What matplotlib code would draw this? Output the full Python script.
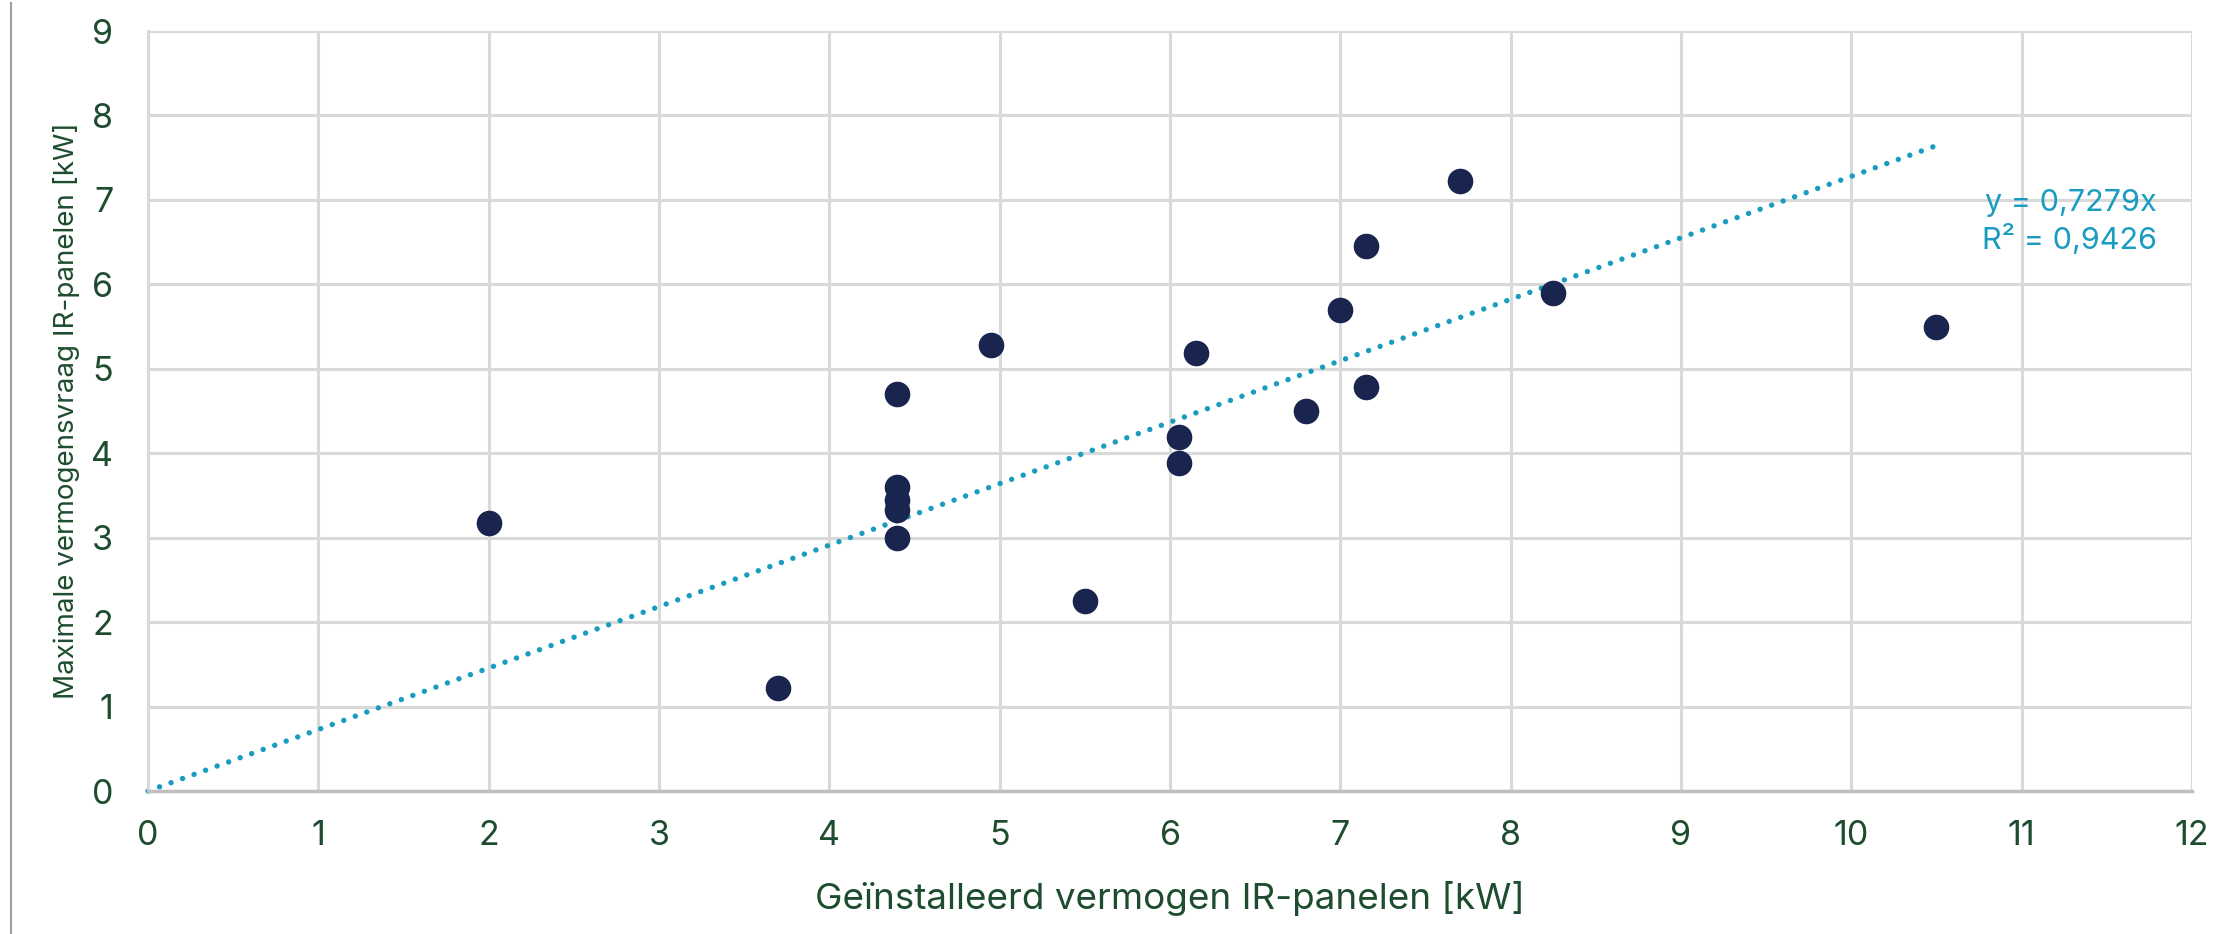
import matplotlib
matplotlib.use("Agg")
import matplotlib.pyplot as plt
from matplotlib.lines import Line2D
import numpy as np

# Data
x_installed = [2.0, 3.7, 4.4, 4.4, 4.4, 4.4, 4.4, 4.95, 5.5, 6.05, 6.05, 6.15,
               6.8, 7.0, 7.15, 7.15, 7.7, 8.25, 10.5]
y_demand = [3.17, 1.22, 4.70, 3.60, 3.45, 3.33, 3.00, 5.28, 2.25, 4.19, 3.88, 5.19,
            4.50, 5.70, 6.45, 4.79, 7.22, 5.90, 5.50]
slope = 0.7279
r2 = 0.9426
trend_x = [0.0, 10.5]
x_ticks = list(range(0, 13))
y_ticks = list(range(0, 10))
x_label = "Geïnstalleerd vermogen IR-panelen [kW]"
y_label = "Maximale vermogensvraag IR-panelen [kW]"

plt.rcParams['font.family'] = ['Inter', 'DejaVu Sans']

W, H, DPI = 2231, 934, 100
fig = plt.figure(figsize=(W / DPI, H / DPI), dpi=DPI)
ax = fig.add_axes([148 / W, 1 - 791 / H, (2192 - 148) / W, (791 - 31) / H])

green = '#1d4d2e'
navy = '#19244f'
teal = '#1a9cc0'

ax.set_xlim(0, 12)
ax.set_ylim(0, 9)
ax.set_xticks(x_ticks)
ax.set_yticks(y_ticks)
ax.grid(True, color='#d9d9d9', linewidth=2.2)
ax.set_axisbelow(True)
for s in ['top', 'right']:
    ax.spines[s].set_visible(False)
ax.spines['left'].set_color('#d9d9d9')
ax.spines['left'].set_linewidth(2.2)
ax.spines['bottom'].set_color('#bfbfbf')
ax.spines['bottom'].set_linewidth(2.5)
ax.tick_params(length=0, labelsize=24.5, labelcolor=green)
ax.tick_params(axis='x', pad=21)
ax.tick_params(axis='y', pad=25)

tx = np.array(trend_x)
ax.plot(tx, slope * tx, color=teal, linewidth=3.9, linestyle=(0, (0.01, 2.25)),
        dash_capstyle='round', zorder=2, clip_on=False)

ax.scatter(x_installed, y_demand, s=340, color=navy, zorder=3, linewidths=0)

ax.text(2157, H - 203, "y = 0,7279x", transform=None, fontsize=22, color=teal,
        ha='right', va='center')
ax.text(2157, H - 240, "R² = 0,9426", transform=None, fontsize=22, color=teal,
        ha='right', va='center')

ax.set_xlabel(x_label, fontsize=26.5, color=green)
ax.xaxis.label.set_verticalalignment('baseline')
ax.xaxis.set_label_coords(0.5, (791 - 909) / 760)
ax.set_ylabel(y_label, fontsize=20, color=green)
ax.yaxis.label.set_verticalalignment('baseline')
ax.yaxis.set_label_coords((74 - 148) / 2044, 0.5)

fig.add_artist(Line2D([11 / W, 11 / W], [0, 1 - 3 / H], transform=fig.transFigure,
                      color='#a0a0a0', linewidth=1.5))

fig.savefig("out.png", dpi=DPI)
